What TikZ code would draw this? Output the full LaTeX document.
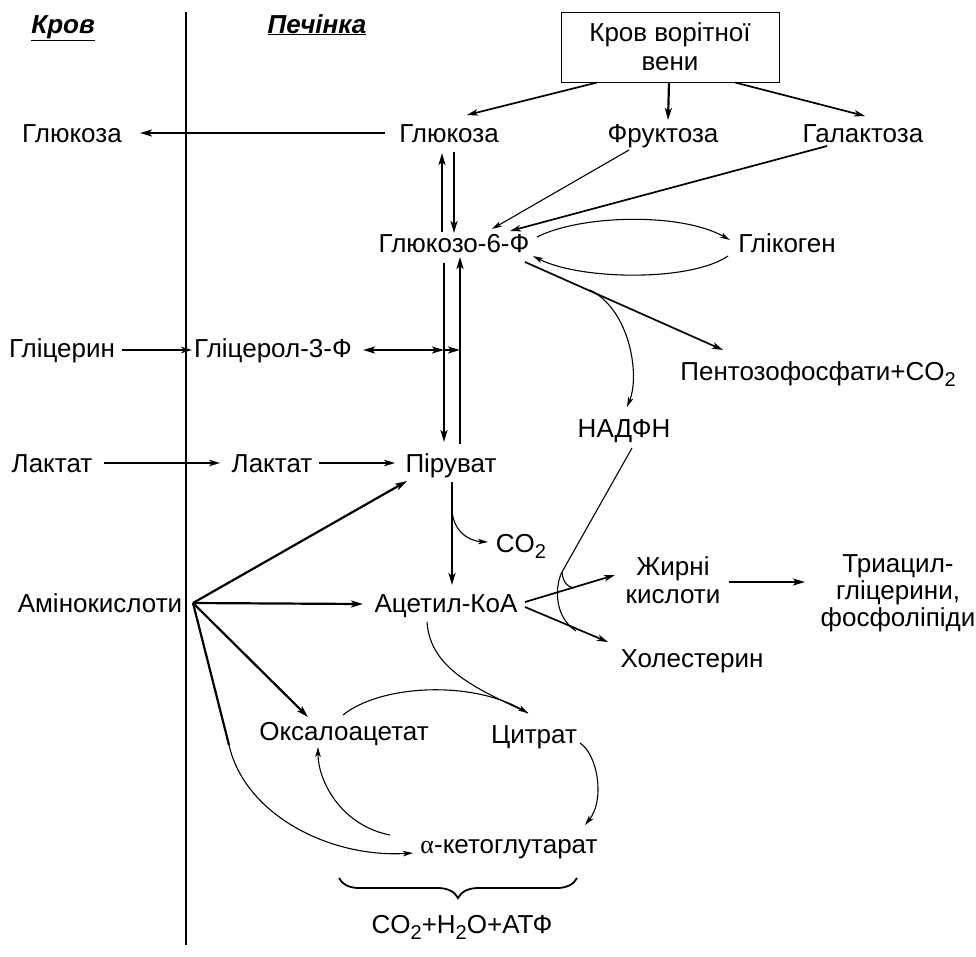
\documentclass[tikz,border=0pt]{standalone}
\usepackage{fontspec}
\setmainfont{Liberation Sans}
\newfontfamily\serifalpha{Liberation Serif}
\usetikzlibrary{arrows.meta,calc,decorations.pathreplacing}
\newcommand\fsz{\fontsize{26}{29}\selectfont}
\newcommand\subnum[1]{\raisebox{-6.5pt}{\fontsize{20}{20}\selectfont #1}}
\tikzset{
  lbl/.style={anchor=base, inner sep=0pt, font=\fsz},
  hdr/.style={anchor=base, inner sep=0pt, font=\fsz\bfseries\itshape},
  thk/.style={line width=2.2pt, -{Stealth[length=12pt,width=7pt,inset=3pt]}},
  med/.style={line width=1.7pt, -{Stealth[length=11pt,width=6.5pt,inset=3pt]}},
  thn/.style={line width=1.1pt, -{Stealth[length=10pt,width=5.5pt,inset=2.5pt]}},
  plain/.style={line width=1.1pt},
}
\begin{document}
\begin{tikzpicture}[x=1pt,y=-1pt]
\useasboundingbox (0,0) rectangle (976,956);
\fill[white] (0,0) rectangle (976,956);

% headers and divider
\node[hdr] (hkrov) at (63,33) {\underline{Кров}};
\node[hdr] (hpech) at (317,33) {\underline{Печінка}};
\coordinate (dtop) at (186,12);
\coordinate (dbot) at (186,945);
\draw[plain] (dtop) -- (dbot);

% nodes
\node[draw, line width=1pt, minimum width=218pt, minimum height=70pt, align=center, inner sep=0pt, font=\fsz] (portal) at (670,47) {Кров ворітної\\вени};
\node[lbl] (glcB) at (72,142) {Глюкоза};
\node[lbl] (glcL) at (449,142) {Глюкоза};
\node[lbl] (fru) at (663,142) {Фруктоза};
\node[lbl] (gal) at (863,142) {Галактоза};
\node[lbl] (g6p) at (454,252) {Глюкозо-6-Ф};
\node[lbl] (glyc) at (787,252) {Глікоген};
\node[lbl] (glycerin) at (62,357) {Гліцерин};
\node[lbl] (g3p) at (273,357) {Гліцерол-3-Ф};
\node[lbl] (pent) at (818,380) {Пентозофосфати+CO\subnum{2}};
\node[lbl] (nadph) at (624,437) {НАДФН};
\node[lbl] (lacB) at (52,472) {Лактат};
\node[lbl] (lacL) at (272,472) {Лактат};
\node[lbl] (pyr) at (451,472) {Піруват};
\node[lbl] (co2) at (521,552) {CO\subnum{2}};
\node[lbl] (aa) at (100,612) {Амінокислоти};
\node[lbl] (acoa) at (446,612) {Ацетил-КоА};
\node[lbl] (fa1) at (673,575) {Жирні};
\node[lbl] (fa2) at (673,603) {кислоти};
\node[lbl] (tag1) at (898,572) {Триацил-};
\node[lbl] (tag2) at (898,599) {гліцерини,};
\node[lbl] (tag3) at (898,626) {фосфоліпіди};
\node[lbl] (chol) at (692,667) {Холестерин};
\node[lbl] (oaa) at (344,740) {Оксалоацетат};
\node[lbl] (cit) at (534,743) {Цитрат};
\node[lbl] (akg) at (509,853) {{\serifalpha α}-кетоглутарат};
\node[lbl] (sum) at (462,933) {CO\subnum{2}+H\subnum{2}O+АТФ};

% glucose to blood
\draw[thk] ($(glcL.base)+(-64,-9)$) -- ($(glcB.base)+(68,-9)$);

% portal vein
\draw[med] ($(portal.south)+(-73,0)$) -- ($(glcL.base)+(18,-27)$);
\draw[thk] ($(portal.south)+(-1,0)$) -- ($(fru.base)+(5,-22)$);
\draw[med] ($(portal.south)+(65,0)$) -- ($(gal.base)+(2,-26)$);

% to G6P
\draw[thn] ($(fru.base)+(-34,8)$) -- ($(g6p.base)+(38,-23)$);
\draw[med] ($(gal.base)+(-36,4)$) -- ($(g6p.base)+(56,-21)$);
\draw[thk] ($(glcL.base)+(5,10)$) -- ($(g6p.base)+(0,-19)$);
\draw[thk] ($(g6p.base)+(-12,-20)$) -- ($(glcL.base)+(-7,11)$);

% glycogen
\draw[thn] ($(g6p.base)+(83,-15)$) .. controls (580,215) and (680,212) .. ($(glyc.base)+(-57,-12)$);
\draw[thn] ($(glyc.base)+(-59,4)$) .. controls (690,282) and (580,280) .. ($(g6p.base)+(79,4)$);

% G6P <-> pyruvate
\draw[thk] ($(g6p.base)+(-10,11)$) -- ($(pyr.base)+(-7,-30)$);
\draw[thk] ($(pyr.base)+(9,-28)$) -- ($(g6p.base)+(6,5)$);

% pentose phosphate
\draw[med] ($(g6p.base)+(71,10)$) -- ($(pent.base)+(-95,-30)$);
\draw[thn] ($(g6p.base)+(136,38)$) .. controls (630,310) and (640,375) .. ($(nadph.base)+(3,-30)$);

% glycerol
\draw[med] ($(glycerin.base)+(60,-7)$) -- ($(g3p.base)+(-81,-7)$);
\coordinate (g3pmid) at ($(g3p.base)+(171,-7)$);
\draw[line width=2.2pt, {Stealth[length=12pt,width=7pt,inset=3pt]}-{Stealth[length=12pt,width=7pt,inset=3pt]}] ($(g3p.base)+(90,-7)$) -- (g3pmid);
\draw[thk] (g3pmid) -- ($(g3p.base)+(187,-7)$);

% lactate
\draw[med] ($(lacB.base)+(52,-9)$) -- ($(lacL.base)+(-52,-9)$);
\draw[med] ($(lacL.base)+(47,-9)$) -- ($(pyr.base)+(-56,-9)$);

% pyruvate -> acetyl-CoA
\draw[thk] ($(pyr.base)+(1,10)$) -- ($(acoa.base)+(6,-27)$);
\draw[thn] ($(pyr.base)+(1,36)$) .. controls (452,530) and (468,541) .. ($(co2.base)+(-33,-10)$);

% amino acids
\coordinate (aasrc) at ($(aa.base)+(93,-9)$);
\draw[thk] (aasrc) -- ($(pyr.base)+(-44,9)$);
\draw[thk] (aasrc) -- ($(acoa.base)+(-83,-8)$);
\draw[thk] (aasrc) -- ($(oaa.base)+(-36,-23)$);
\coordinate (aabend) at (229,745);
\draw[line width=2.2pt] (aasrc) -- (aabend);
\draw[thn] (aabend) .. controls (245,815) and (330,858) .. ($(akg.base)+(-96,0)$);

% acetyl-CoA -> fatty acids, cholesterol
\coordinate (faend) at ($(fa1.base)+(-58,0)$);
\coordinate (chend) at ($(chol.base)+(-84,-25)$);
\draw[med] ($(acoa.base)+(79,-10)$) -- (faend);
\draw[med] ($(acoa.base)+(79,-5)$) -- (chend);
\draw[thk] ($(fa1.base)+(56,7)$) -- ($(tag2.base)+(-93,-17)$);

% NADPH to syntheses
\coordinate (nbend) at (562,572);
\draw[plain] ($(nadph.base)+(8,11)$) -- (nbend);
\draw[plain] (nbend) .. controls (563,582) and (567,587) .. (574,588);
\draw[plain] (nbend) .. controls (556,583) and (552,615) .. (576,631);

% Krebs cycle
\coordinate (citin) at ($(cit.base)+(-6,-30)$);
\draw[plain] ($(acoa.base)+(-19,10)$) .. controls (430,670) and (480,690) .. (citin);
\draw[thn] ($(oaa.base)+(-1,-25)$) .. controls (380,685) and (470,680) .. (citin);
\draw[thn] ($(cit.base)+(46,0)$) .. controls (598,755) and (605,800) .. ($(akg.base)+(76,-28)$);
\draw[thn] ($(akg.base)+(-119,-18)$) .. controls (340,825) and (318,780) .. ($(oaa.base)+(-26,7)$);

% brace
\draw[line width=1.8pt, decorate, decoration={brace, mirror, amplitude=20pt}] ($(sum.base)+(-123,-55)$) -- ($(sum.base)+(115,-55)$);
\end{tikzpicture}
\end{document}
